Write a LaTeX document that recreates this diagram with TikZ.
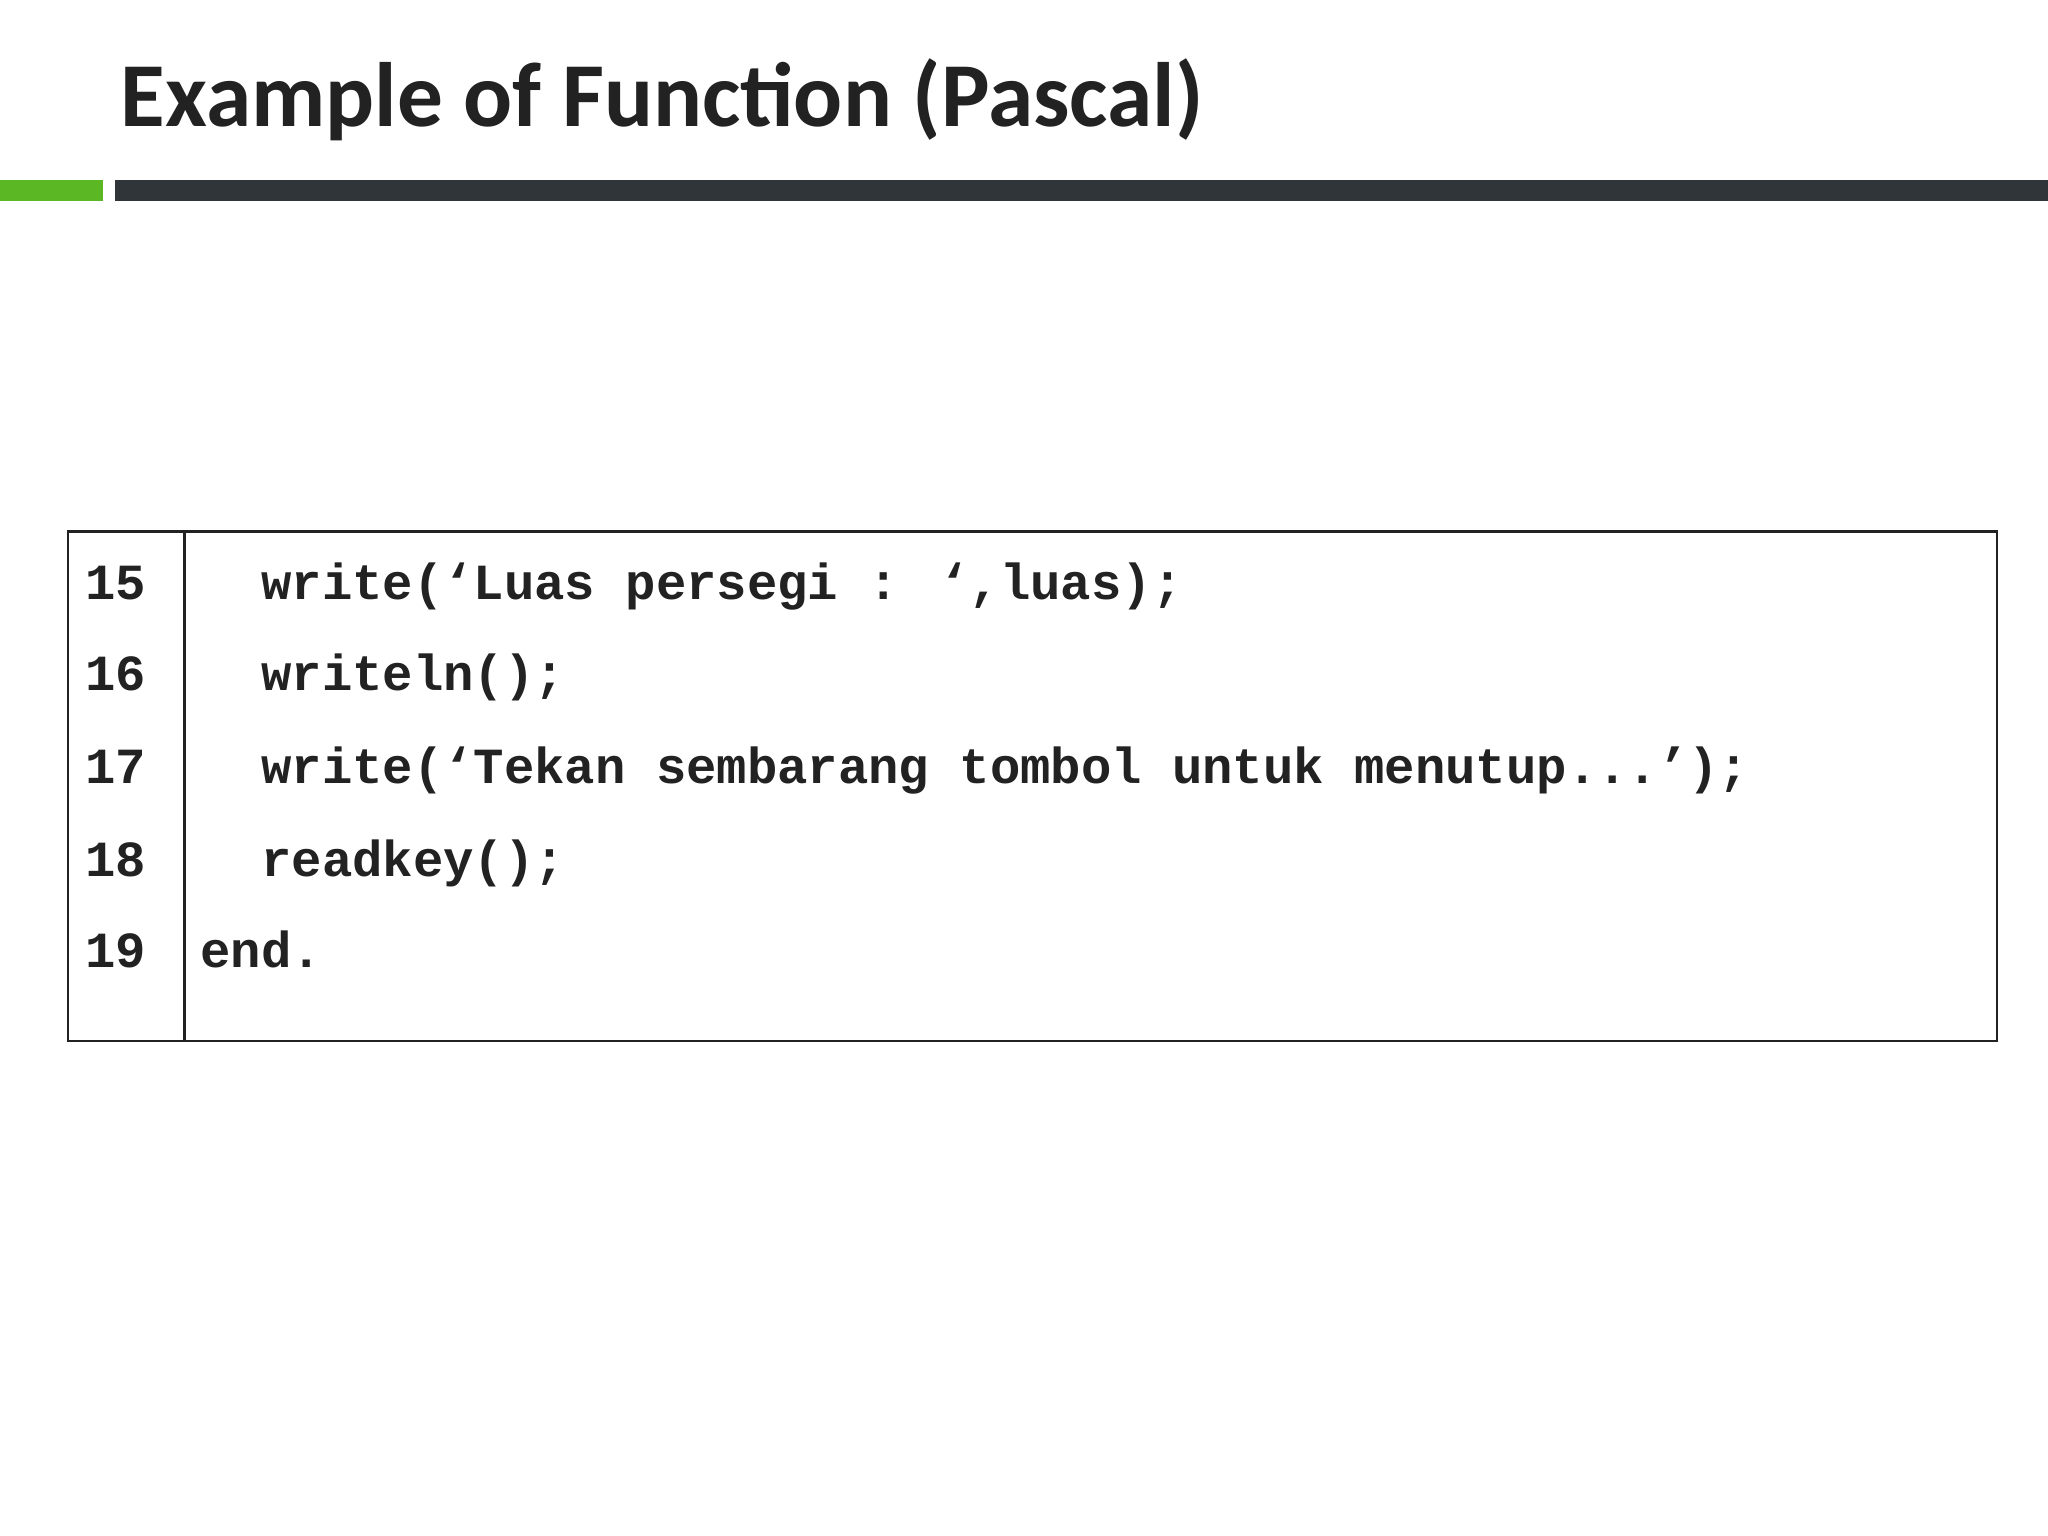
\documentclass[tikz,border=0pt]{standalone}
\usepackage{fontspec}
\setmainfont{Carlito}
\newfontfamily\codefont{Liberation Mono}
\usetikzlibrary{positioning}
\definecolor{barGreen}{HTML}{5BB824}
\definecolor{barDark}{HTML}{2F3538}
\definecolor{inkGray}{HTML}{222222}
\tikzset{
  codeline/.style={anchor=base west, inner sep=0pt, font=\codefont\bfseries\fontsize{14.4}{16}\selectfont, text=inkGray},
}
\begin{document}
\begin{tikzpicture}[x=0.01306cm, y=-0.01306cm]
        \useasboundingbox (0,0) rectangle (1568,1176);
        % Title
        \node[anchor=base west, inner sep=0pt, font=\bfseries\fontsize{26}{30}\selectfont, text=inkGray] (title) at (92,97) {Example of Function (Pascal)};

        % Bars
        \fill[barGreen] (0,138) rectangle (79,154);
        \fill[barDark] (88,138) rectangle (1568,154);

        % Table
        \draw[thick, inkGray] (52,407) rectangle (1529,797);
        \draw[thick, inkGray] (141,407) -- (141,797);

        % Lines
        \foreach \n/\y/\txt in {15/459/{\ \ write(‘Luas persegi : ‘,luas);},
                               16/529/{\ \ writeln();},
                               17/600/{\ \ write(‘Tekan sembarang tombol untuk menutup...’);},
                               18/671/{\ \ readkey();},
                               19/741/{end.}} {
          \node[codeline] (num\n) at (65,\y) {\n};
          \node[codeline] (code\n) at (153,\y) {\txt};
        }
\end{tikzpicture}
\end{document}
